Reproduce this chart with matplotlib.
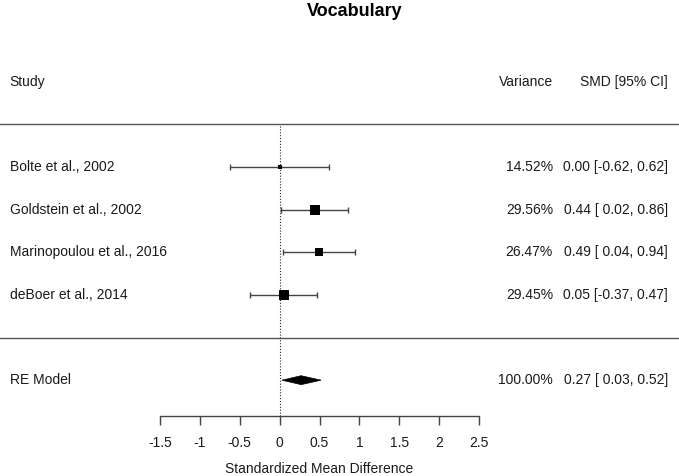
import matplotlib
matplotlib.use("Agg")
import matplotlib.pyplot as plt
from matplotlib.patches import Polygon
import numpy as np

plt.rcParams['font.family'] = ['Liberation Sans', 'DejaVu Sans']

title = "Vocabulary"
studies = ["Bolte et al., 2002", "Goldstein et al., 2002",
           "Marinopoulou et al., 2016", "deBoer et al., 2014"]
smd = [0.00, 0.44, 0.49, 0.05]
ci_low = [-0.62, 0.02, 0.04, -0.37]
ci_high = [0.62, 0.86, 0.94, 0.47]
weights = [14.52, 29.56, 26.47, 29.45]
model_label = "RE Model"
model_est = 0.27
model_low = 0.03
model_high = 0.52
model_weight = 100.00
xticks = [-1.5, -1, -0.5, 0, 0.5, 1, 1.5, 2, 2.5]
xtick_labels = ["-1.5", "-1", "-0.5", "0", "0.5", "1", "1.5", "2", "2.5"]
header_study = "Study"
header_var = "Variance"
header_ci = "SMD [95% CI]"
xlabel = "Standardized Mean Difference"

W, H = 679, 476
fig = plt.figure(figsize=(W / 100, H / 100), dpi=100)
ax_bottom_px, ax_top_px = 416, 24.5
ax = fig.add_axes([0, (H - ax_bottom_px) / H, 1, (ax_bottom_px - ax_top_px) / H])

px_per_unit = (479 - 160) / 4.0
x0 = -1.5 - 160 / px_per_unit
x1 = 2.5 + (W - 479) / px_per_unit
ax.set_xlim(x0, x1)
k = len(studies)
ax.set_ylim(-1.84, k + 3.34)

FS = 10
col = '#1a1a1a'
rows = np.arange(k, 0, -1)

# reference lines
ax.axhline(0, color='#555555', lw=1)
ax.axhline(k + 1, color='#555555', lw=1)
ax.plot([0, 0], [-1.84, k + 1], color='#222222', lw=0.8, ls=(0, (1, 1.6)))

# CIs and squares
w = np.array(weights)
psize = (w - w.min()) / (w.max() - w.min()) + 0.5
for r, m, lo, hi, ps in zip(rows, smd, ci_low, ci_high, psize):
    ax.errorbar(m, r, xerr=[[m - lo], [hi - m]], fmt='none', ecolor='#444444',
                elinewidth=1, capsize=2.2, capthick=1)
    ax.plot(m, r, marker='s', color='black', markersize=6.6 * ps * 0.72,
            markeredgewidth=0)

# summary diamond
h = 0.105
diamond = Polygon([[model_low, -1], [model_est, -1 + h], [model_high, -1], [model_est, -1 - h]],
                  closed=True, facecolor='black', edgecolor='black', lw=0.5)
ax.add_patch(diamond)

# text columns
xl = x0 + 9.5 / px_per_unit
xv = x0 + 553 / px_per_unit
xc = x0 + 668 / px_per_unit
ax.text(xl, k + 2, header_study, ha='left', va='center', fontsize=FS, color=col)
ax.text(xv, k + 2, header_var, ha='right', va='center', fontsize=FS, color=col)
ax.text(xc, k + 2, header_ci, ha='right', va='center', fontsize=FS, color=col)

def fmt_lo(v):
    s = f"{v:.2f}"
    return s if v < 0 else " " + s

def ci_text(m, lo, hi):
    return f"{m:.2f} [{fmt_lo(lo)}, {hi:.2f}]"

for r, s, m, lo, hi, wt in zip(rows, studies, smd, ci_low, ci_high, weights):
    ax.text(xl, r, s, ha='left', va='center', fontsize=FS, color=col)
    ax.text(xv, r, f"{wt:.2f}%", ha='right', va='center', fontsize=FS, color=col)
    ax.text(xc, r, ci_text(m, lo, hi), ha='right', va='center', fontsize=FS, color=col)

ax.text(xl, -1, model_label, ha='left', va='center', fontsize=FS, color=col)
ax.text(xv, -1, f"{model_weight:.2f}%", ha='right', va='center', fontsize=FS, color=col)
ax.text(xc, -1, ci_text(model_est, model_low, model_high), ha='right', va='center',
        fontsize=FS, color=col)

# axis
for sp in ['top', 'left', 'right']:
    ax.spines[sp].set_visible(False)
ax.spines['bottom'].set_bounds(xticks[0], xticks[-1])
ax.spines['bottom'].set_color('#444444')
ax.spines['bottom'].set_linewidth(1)
ax.set_xticks(xticks)
ax.set_xticklabels(xtick_labels, fontsize=FS, color=col)
ax.tick_params(axis='x', length=6.5, width=1, color='#444444', pad=8)
ax.set_yticks([])
ax.set_facecolor('none')

ax.text((xticks[0] + xticks[-1]) / 2, 1 - (469 - 24.5) / (ax_bottom_px - ax_top_px), xlabel,
        transform=ax.get_xaxis_transform(), ha='center', va='center', fontsize=FS, color=col)

fig.text(355 / W, 1 - 12 / H, title, ha='center', va='center', fontsize=13,
         fontweight='bold', color='black')

fig.savefig("out.png", dpi=100)
